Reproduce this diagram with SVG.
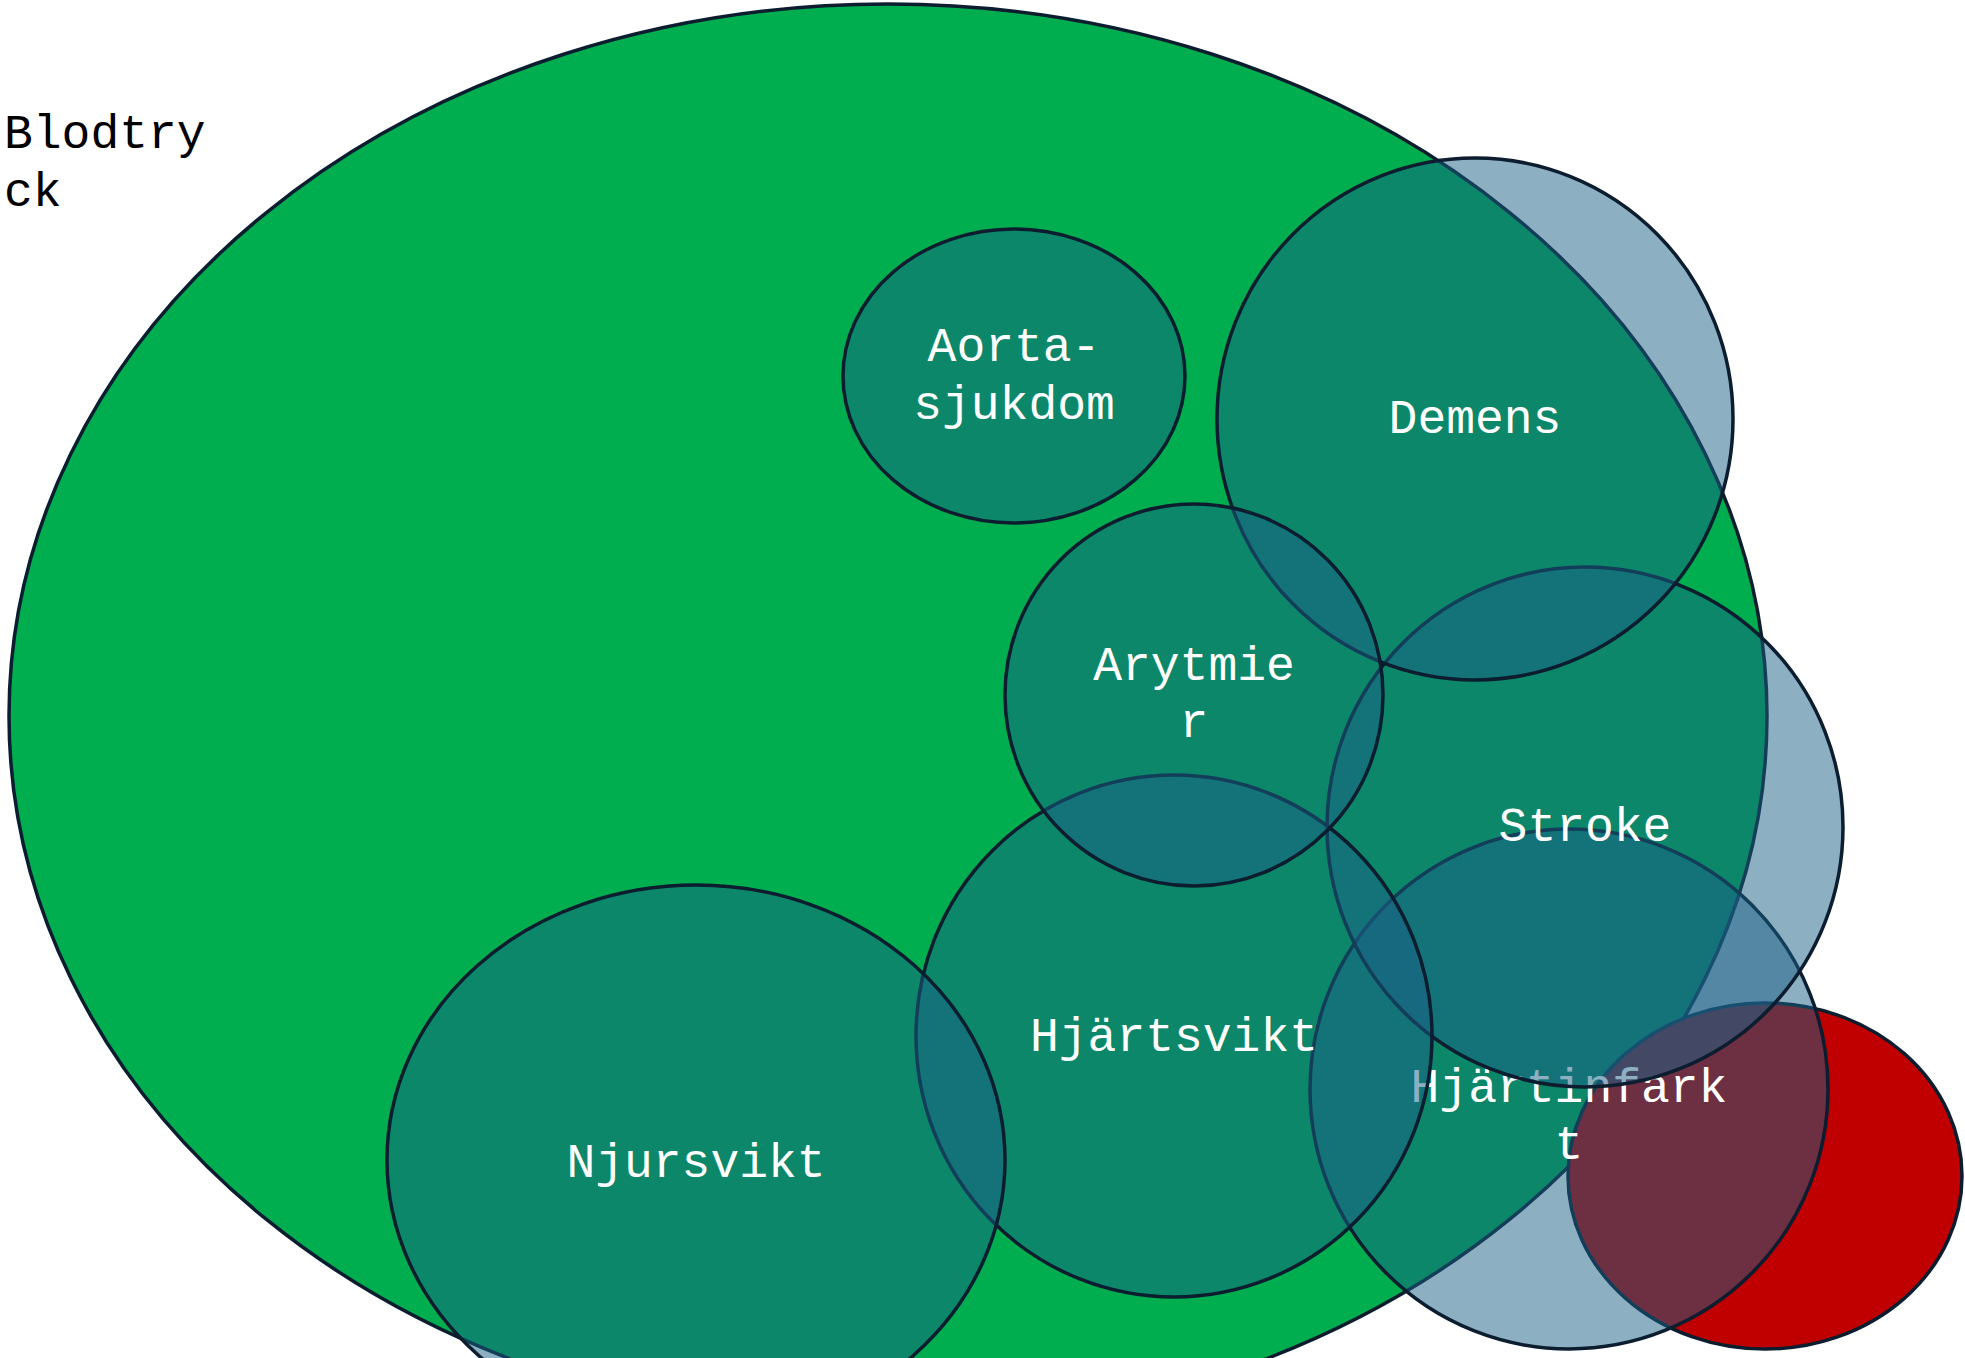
<svg xmlns="http://www.w3.org/2000/svg" width="1965" height="1358" viewBox="0 0 1965 1358">
<style>
.base{fill:#00AE4F;stroke:#0B1D2E;stroke-width:3.5}
.red{fill:#C00000;stroke:#0B1D2E;stroke-width:3.5}
.c{fill:#1A5F86;fill-opacity:0.5;stroke:#0B1D2E;stroke-width:3.5}
.t{font-family:"Liberation Mono","Courier New",monospace;font-size:48px;fill:#FFFFFF;text-anchor:middle}
.k{font-family:"Liberation Mono","Courier New",monospace;font-size:48px;fill:#000000}
</style>
<rect width="1965" height="1358" fill="#FFFFFF"/>
<g id="blodtryck">
<ellipse class="base" cx="888" cy="716" rx="879" ry="712"/>
<text class="k" x="4" y="148"><tspan x="4" y="148">Blodtry</tspan><tspan x="4" y="206">ck</tspan></text>
</g>
<g id="red-area">
<ellipse class="red" cx="1765" cy="1176" rx="197" ry="173"/>
</g>
<g id="hjartinfarkt">
<ellipse class="c" cx="1569" cy="1089" rx="259" ry="260"/>
<text class="t"><tspan x="1569" y="1102">Hjärtinfark</tspan><tspan x="1569" y="1159">t</tspan></text>
</g>
<g id="stroke">
<ellipse class="c" cx="1585" cy="827" rx="258" ry="260"/>
<text class="t" x="1585" y="841">Stroke</text>
</g>
<g id="demens">
<ellipse class="c" cx="1475" cy="419" rx="258" ry="261"/>
<text class="t" x="1475" y="433">Demens</text>
</g>
<g id="hjartsvikt">
<ellipse class="c" cx="1174" cy="1036" rx="258" ry="261"/>
<text class="t" x="1174" y="1051">Hjärtsvikt</text>
</g>
<g id="arytmier">
<ellipse class="c" cx="1194" cy="695" rx="189" ry="191"/>
<text class="t"><tspan x="1194" y="680">Arytmie</tspan><tspan x="1194" y="737">r</tspan></text>
</g>
<g id="njursvikt">
<ellipse class="c" cx="696" cy="1160" rx="309" ry="275"/>
<text class="t" x="696" y="1177">Njursvikt</text>
</g>
<g id="aortasjukdom">
<ellipse class="c" cx="1014" cy="376" rx="171" ry="147"/>
<text class="t"><tspan x="1014" y="361">Aorta-</tspan><tspan x="1014" y="419">sjukdom</tspan></text>
</g>
<g id="connectors"/>
</svg>
